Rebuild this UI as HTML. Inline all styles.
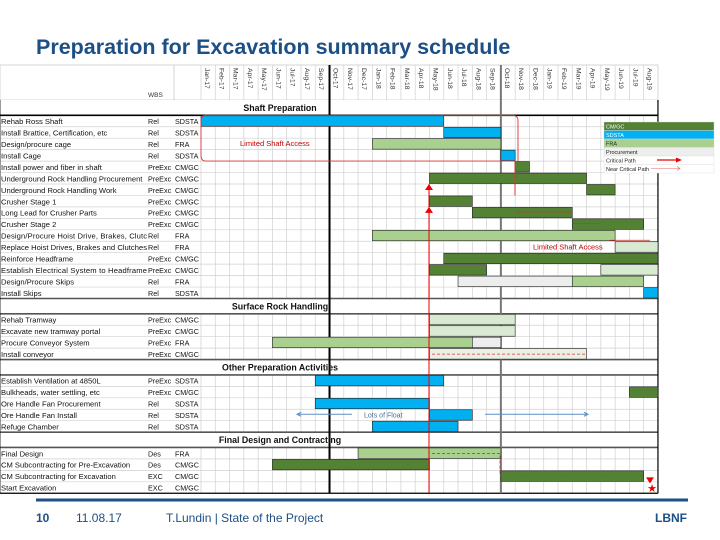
<!DOCTYPE html>
<html><head><meta charset="utf-8"><style>
body{margin:0;width:720px;height:540px;background:#fff;overflow:hidden;font-family:"Liberation Sans",sans-serif}
svg{position:absolute;left:0;top:0}
</style></head><body>
<svg id="chart" width="720" height="540">
<text x="36" y="54" font-size="21.5" font-weight="bold" fill="#1b4f85">Preparation for Excavation summary schedule</text>
<g id="grid"></g><g id="bars"></g><g id="labels"></g><g id="annot"></g>
<line x1="36" y1="500" x2="688" y2="500" stroke="#1b4f85" stroke-width="3"/>
<text x="36" y="522" font-size="12" font-weight="bold" fill="#1b4f85">10</text>
<text x="76" y="522" font-size="12" fill="#1b4f85">11.08.17</text>
<text x="166" y="522" font-size="12" fill="#1b4f85">T.Lundin | State of the Project</text>
<text x="687" y="522" font-size="12" font-weight="bold" fill="#1b4f85" text-anchor="end">LBNF</text>
</svg>
<script>
const months=["Jan-17","Feb-17","Mar-17","Apr-17","May-17","Jun-17","Jul-17","Aug-17","Sep-17","Oct-17","Nov-17","Dec-17","Jan-18","Feb-18","Mar-18","Apr-18","May-18","Jun-18","Jul-18","Aug-18","Sep-18","Oct-18","Nov-18","Dec-18","Jan-19","Feb-19","Mar-19","Apr-19","May-19","Jun-19","Jul-19","Aug-19"];
const sections=["Shaft Preparation","Surface Rock Handling","Other Preparation Activities","Final Design and Contracting"];
const taskSection=[0,0,0,0,0,0,0,0,0,0,0,0,0,0,0,0,1,1,1,1,2,2,2,2,2,3,3,3,3];
const taskNames=["Rehab Ross Shaft","Install Brattice, Certification, etc","Design/procure cage","Install Cage","Install power and fiber in shaft","Underground Rock Handling Procurement","Underground Rock Handling Work","Crusher Stage 1","Long Lead for Crusher Parts","Crusher Stage 2","Design/Procure Hoist Drive, Brakes, Clutc","Replace Hoist Drives, Brakes and Clutches","Reinforce Headframe","Establish Electrical System to Headframe","Design/Procure Skips","Install Skips","Rehab Tramway","Excavate new tramway portal","Procure Conveyor System","Install conveyor","Establish Ventilation at 4850L","Bulkheads, water settling, etc","Ore Handle Fan Procurement","Ore Handle Fan Install","Refuge Chamber","Final Design","CM Subcontracting for Pre-Excavation","CM Subcontracting for Excavation","Start Excavation"];
const taskWBS=["Rel","Rel","Rel","Rel","PreExc","PreExc","PreExc","PreExc","PreExc","PreExc","Rel","Rel","PreExc","PreExc","Rel","Rel","PreExc","PreExc","PreExc","PreExc","PreExc","PreExc","Rel","Rel","Rel","Des","Des","EXC","EXC"];
const taskOrg=["SDSTA","SDSTA","FRA","SDSTA","CM/GC","CM/GC","CM/GC","CM/GC","CM/GC","CM/GC","FRA","FRA","CM/GC","CM/GC","FRA","SDSTA","CM/GC","CM/GC","FRA","CM/GC","SDSTA","CM/GC","SDSTA","SDSTA","SDSTA","FRA","CM/GC","CM/GC","CM/GC"];
const barTask=[0,1,2,3,4,5,6,7,8,9,10,11,12,13,13,14,14,15,16,17,18,18,19,20,21,22,23,24,25,26,27];
const barStart=[0,17,12,21,22,16,27,16,19,26,12,29,17,16,28,18,26,31,16,16,5,19,16,8,30,8,16,12,11,5,21];
const barEnd=[17,21,21,22,23,27,29,19,26,31,29,32,32,20,32,26,31,32,22,22,19,21,27,17,32,16,19,18,21,16,31];
const barType=["S","S","F","S","C","C","C","C","C","C","F","P","C","C","P","G","F","S","P","P","F","G","Q","S","C","S","S","S","F","C","C"];
const legendLabels=["CM/GC","SDSTA","FRA","Procurement","Critical Path","Near Critical Path"];

const NS="http://www.w3.org/2000/svg";
const X0=201,MW=14.28,X1=X0+months.length*MW,RH=11.45,SH=15.3,HEAD=100;
const colors={C:"#548235",S:"#00b0f0",F:"#a9d08e",P:"#d9ead3",G:"#ededed",Q:"#eaf1e4"};
const xm=m=>X0+m*MW;
function mk(p,tag,attrs){const e=document.createElementNS(NS,tag);for(const k in attrs)e.setAttribute(k,attrs[k]);document.getElementById(p).appendChild(e);return e;}
const rowY=[];const secY=[];let y=HEAD,prev=-1;
taskSection.forEach((s,i)=>{if(s!==prev){secY[s]=y;y+=SH;prev=s;}rowY[i]=y;y+=RH;});
const bottom=y;
const hb=mk("grid","rect",{x:0,y:65,width:X1,height:HEAD-65,fill:"#fff",stroke:"#ccc","stroke-width":0.8});

const wl=mk("labels","text",{x:148,y:97,"font-size":6.5,fill:"#333"});wl.textContent="WBS";

mk("grid","line",{x1:174,y1:65,x2:174,y2:100,stroke:"#ccc","stroke-width":0.8});
months.forEach((m,i)=>{
 const t=mk("labels","text",{transform:`translate(${xm(i)+4},68) rotate(90)`,"font-size":6.8,fill:"#333"});t.textContent=m;
 
});
taskNames.forEach((n,i)=>{
 mk("grid","line",{x1:0,y1:rowY[i]+RH,x2:X1,y2:rowY[i]+RH,stroke:"#d0d0d0","stroke-width":0.7});
 const t=mk("labels","text",{x:1,y:rowY[i]+8.8,"font-size":7.6,fill:"#111",textLength:n.length>38?146:"" });t.textContent=n;
 if(n.length<=38)t.removeAttribute("textLength");
 
 const w=mk("labels","text",{x:148,y:rowY[i]+8.8,"font-size":7.2,fill:"#111"});w.textContent=taskWBS[i];
 
 const o=mk("labels","text",{x:175,y:rowY[i]+8.8,"font-size":7.2,fill:"#111"});o.textContent=taskOrg[i];
 
});
months.forEach((m,i)=>{
 mk("grid","line",{x1:xm(i),y1:65,x2:xm(i),y2:bottom,stroke:"#d0d0d0","stroke-width":0.7});});
sections.forEach((s,i)=>{
 const y0=secY[i];
 mk("grid","rect",{x:0,y:y0,width:X1,height:SH,fill:"#fff"});
 const t=mk("labels","text",{x:280,y:y0+11,"font-size":8.8,"font-weight":"bold","text-anchor":"middle",fill:"#111"});t.textContent=s;
 
 mk("grid","line",{x1:0,y1:y0+SH,x2:X1,y2:y0+SH,stroke:i==0?"#000":"#555","stroke-width":1.6});
 if(i>0)mk("grid","line",{x1:0,y1:y0,x2:X1,y2:y0,stroke:"#555","stroke-width":1.6});
});
mk("grid","line",{x1:0,y1:bottom,x2:X1,y2:bottom,stroke:"#000","stroke-width":1.2});
mk("grid","line",{x1:X1,y1:HEAD,x2:X1,y2:bottom,stroke:"#000","stroke-width":1.2});
mk("grid","line",{x1:0,y1:HEAD,x2:0,y2:bottom,stroke:"#000","stroke-width":0.8});
[9,21].forEach((m,k)=>mk("grid","line",{x1:xm(m),y1:65,x2:xm(m),y2:bottom,stroke:k?"#777":"#000","stroke-width":2}));
barTask.forEach((t,i)=>{
 const b=mk("bars","rect",{x:xm(barStart[i]),y:rowY[t]+0.5,width:xm(barEnd[i])-xm(barStart[i]),height:RH-1,fill:colors[barType[i]],stroke:"#222","stroke-width":0.6});
 
});
const lx=604,ly=122,lw=110,lh=8.5;
legendLabels.forEach((l,i)=>{
 const f=["#548235","#00b0f0","#a9d08e","#eeeeee","#fff","#fff"][i];
 mk("annot","rect",{x:lx,y:ly+i*lh,width:lw,height:lh,fill:f,stroke:"#ddd","stroke-width":0.4});
 const t=mk("annot","text",{x:lx+2,y:ly+i*lh+6.5,"font-size":5.5,fill:i<2?"#fff":"#222"});t.textContent=l;
 
});
mk("annot","line",{x1:657,y1:ly+4*lh+4,x2:676,y2:ly+4*lh+4,stroke:"#e00",'stroke-width':1.2});
mk("annot","path",{d:`M676 ${ly+4*lh+1.5} L682 ${ly+4*lh+4} L676 ${ly+4*lh+6.5}Z`,fill:"#e00"});
mk("annot","path",{d:`M651 ${ly+5*lh+4} H680 M677 ${ly+5*lh+2} L680 ${ly+5*lh+4} L677 ${ly+5*lh+6}`,stroke:"#e66",fill:"none","stroke-width":0.6});
const A=(d,s,w,da)=>mk("annot","path",{d:d,stroke:s,fill:"none","stroke-width":w,"stroke-dasharray":da||""});
A(`M205 ${rowY[0]} H512 Q518 ${rowY[0]} 518 ${rowY[0]+5} V${rowY[3]+RH} M206 ${rowY[0]} Q201 ${rowY[0]} 201 ${rowY[0]+5} V${rowY[3]+6} Q201 ${rowY[4]} 206 ${rowY[4]} H515`,"#d33",0.9);
const la=mk("annot","text",{x:240,y:rowY[2]+8,"font-size":7.5,fill:"#c00000"});la.textContent="Limited Shaft Access";

const lb=mk("annot","text",{x:533,y:rowY[11]+8,"font-size":7.5,fill:"#c00000"});lb.textContent="Limited Shaft Access";

A(`M610 ${rowY[11]-1} H650 M610 ${rowY[12]+5} H650`,"#c33",0.7);
A(`M515 ${rowY[3]+RH} V${rowY[7]}`,"#d33",1);
A(`M429 ${rowY[6]} V${bottom}`,"#e00",1);
[rowY[6],rowY[8]].forEach(yy=>mk("annot","path",{d:`M425 ${yy+6} L429 ${yy} L433 ${yy+6}Z`,fill:"#e00"}));
A(`M515 ${rowY[8]+5} H572 M573 ${rowY[9]+5} H600`,"#c33",0.8);
A(`M432 ${rowY[19]+6} H585`,"#d33",0.8,"3,2");
A(`M432 ${rowY[25]+6} H500 V${rowY[27]+5} H645`,"#d33",0.8,"3,2");
mk("annot","path",{d:`M646 ${rowY[27]+7} L654 ${rowY[27]+7} L650 ${rowY[27]+13}Z`,fill:"#e00"});
const st=mk("annot","text",{x:652,y:rowY[28]+10,"font-size":11,fill:"#e00","text-anchor":"middle"});st.textContent="★";

A(`M352 ${rowY[23]+5} H297 M301 ${rowY[23]+3} L297 ${rowY[23]+5} L301 ${rowY[23]+7}`,"#5b8fc7",1);
A(`M485 ${rowY[23]+5} H588 M584 ${rowY[23]+3} L588 ${rowY[23]+5} L584 ${rowY[23]+7}`,"#5b8fc7",1);
const lf=mk("annot","text",{x:364,y:rowY[23]+8,"font-size":7,fill:"#4a6f99"});lf.textContent="Lots of Float";

</script>
</body></html>
